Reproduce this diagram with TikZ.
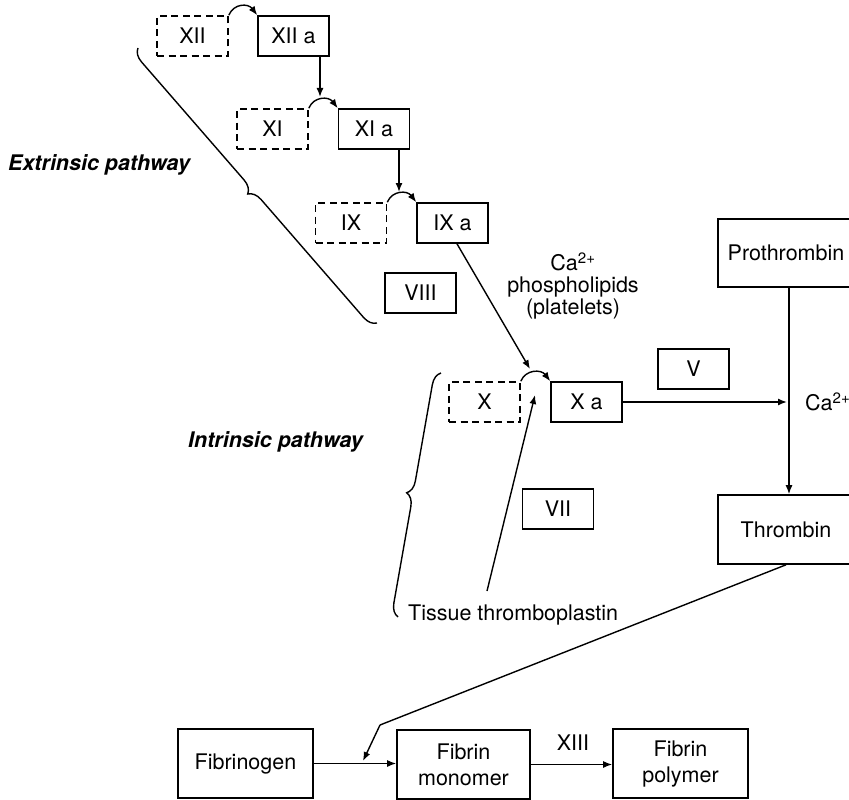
\documentclass[tikz,border=0pt]{standalone}
\usepackage{fontspec}
\setmainfont{TeX Gyre Heros}
\usetikzlibrary{arrows.meta,decorations.pathreplacing,calc}
\begin{document}
\begin{tikzpicture}[x=1pt,y=-1pt,
  every node/.style={font=\fontsize{21.5}{25}\selectfont},
  box/.style={draw,line width=1.6pt,rectangle,inner sep=0pt,minimum width=71pt,minimum height=40pt},
  dbox/.style={box,dash pattern=on 7pt off 4.5pt},
  bigbox/.style={box,minimum width=135pt,minimum height=69pt,align=center},
  arr/.style={line width=1.4pt,-{Latex[length=9pt,width=7pt]}},
  ln/.style={line width=1.4pt},
  brc/.style={line width=1.4pt,decorate,decoration={brace,amplitude=13pt,aspect=0.5}},
  lbl/.style={font=\fontsize{21.5}{25}\selectfont\bfseries\itshape}
]
\useasboundingbox (0,0) rectangle (849,800);
\clip (0,0) rectangle (849,800);

% cascade boxes
\node[dbox] (xii) at (192.5,36) {XII};
\node[box]  (xiia) at (293.5,36) {XII a};
\node[dbox] (xi) at (272.5,129) {XI};
\node[box]  (xia) at (374,129) {XI a};
\node[dbox] (ix) at (351,223) {IX};
\node[box]  (ixa) at (452.5,223) {IX a};
\node[box]  (viii) at (420.5,293) {VIII};
\node[dbox] (x) at (484.5,402) {X};
\node[box]  (xa) at (586.5,402) {X a};
\node[box]  (v) at (693.5,369) {V};
\node[box]  (vii) at (558,509) {VII};

\node[box,minimum width=136pt,minimum height=68pt] (proth) at (786,253) {Prothrombin};
\node[box,minimum width=136pt,minimum height=69pt] (thr) at (786,529.5) {Thrombin};

\node[bigbox] (fbg) at (245.5,763.5) {Fibrinogen};
\node[bigbox,minimum width=133pt] (mono) at (463.5,764.5) {Fibrin\\[1pt]monomer};
\node[bigbox] (poly) at (680.5,763.5) {Fibrin\\[1pt]polymer};

% labels
\node[lbl,anchor=west,inner sep=0pt] (ext) at (8,165) {Extrinsic pathway};
\node[lbl,anchor=west,inner sep=0pt] (int) at (188,442) {Intrinsic pathway};
\node[align=center,inner sep=0pt] (caph) at (573,286) {Ca\textsuperscript{2+}\\[-3pt]phospholipids\\[-3pt](platelets)};
\node[anchor=west,inner sep=0pt] (tissue) at (408,615) {Tissue thromboplastin};
\node[inner sep=0pt] (xiii) at (573,743) {XIII};
\node[anchor=west,inner sep=0pt] (ca) at (805,402) {Ca\textsuperscript{2+}};

% activation arcs
\draw[arr] (xii.north east) .. controls +(5,-12) and +(-9,-12) .. (xiia.north west);
\draw[arr] (xi.north east) .. controls +(5,-12) and +(-9,-12) .. (xia.north west);
\draw[arr] (ix.north east) .. controls +(5,-12) and +(-9,-12) .. (ixa.north west);
\draw[arr] (x.north east) .. controls +(5,-12) and +(-9,-12) .. (xa.north west);

% free ends
\coordinate (t1) at (320,97);
\coordinate (t2) at (399,192);
\coordinate (t3) at (530,369);
\coordinate (t4) at (535,395);
\coordinate (ts) at (487,591);
\coordinate (bend) at (380,725);
\coordinate (t5) at (363,761);
\coordinate (caend) at (787,402);

\draw[arr] (xiia.south -| t1) -- (t1);
\draw[arr] (xia.south -| t2) -- (t2);
\draw[arr] ($(ixa.south)+(4.5,0)$) -- (t3);
\draw[arr] (ts) -- (t4);
\draw[arr] (xa.east) -- (caend);
\draw[arr] (proth.south -| 789,0) -- (thr.north -| 789,0);
\draw[ln] (thr.south) -- (bend);
\draw[arr] (bend) -- (t5);
\draw[arr] (fbg.east) -- (fbg.east -| mono.west);
\draw[arr] (mono.east) -- (mono.east -| poly.west);

% braces
\draw[brc] (377,323) -- (138,48);
\draw[brc] (398,617) -- (441,373);
\end{tikzpicture}
\end{document}
